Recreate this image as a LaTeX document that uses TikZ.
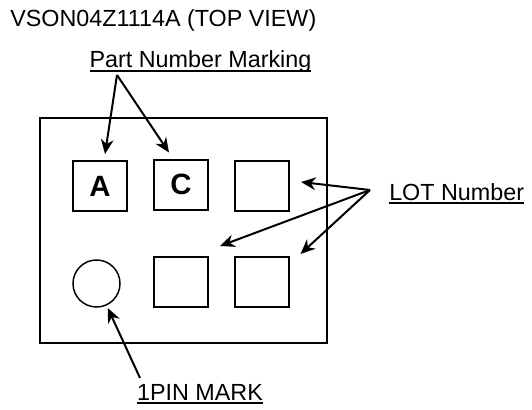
\documentclass[tikz,border=0pt]{standalone}
\usepackage{fontspec}
\setmainfont{Liberation Sans}
\usetikzlibrary{arrows.meta}
\newsavebox\ulbox
\newcommand{\ulabel}[1]{\sbox\ulbox{#1}\rlap{\rule[-3pt]{\wd\ulbox}{1.2pt}}\usebox\ulbox}

\begin{document}
\begin{tikzpicture}[x=0.75pt, y=-0.75pt,
  markbox/.style={draw, line width=1.5pt, minimum width=40.5pt, minimum height=37.5pt,
    inner sep=0pt, font=\fontsize{22}{22}\selectfont\bfseries},
  lbl/.style={inner sep=0pt, font=\fontsize{17.5}{21}\selectfont},
  arr/.style={-{Stealth[length=11pt, width=9.5pt, inset=3.5pt]}, line width=1.5pt}]
  \useasboundingbox (0,0) rectangle (532,410);

  % Nodes
  \node[lbl, anchor=base west] (title) at (10,27) {VSON04Z1114A (TOP VIEW)};
  \node[draw, line width=1.5pt, minimum width=215.25pt, minimum height=168.75pt] (pkg) at (183.5,230.5) {};
  \node[markbox] (markA) at (100,186) {A};
  \node[markbox] (markC) at (181,184.5) {C};
  \node[markbox] (lot1) at (262,186) {};
  \node[markbox] (lot2) at (181,282) {};
  \node[markbox] (lot3) at (261.5,282) {};
  \node[draw, circle, line width=1.1pt, minimum size=35.25pt, inner sep=0pt] (pin) at (96.5,283.5) {};

  % Labels
  \node[lbl, anchor=base] (partlbl) at (200.5,68) {\ulabel{Part Number Marking}};
  \node[lbl, anchor=base west] (lotlbl) at (389,200) {\ulabel{LOT Number}};
  \node[lbl, anchor=base] (pinlbl) at (200,400) {\ulabel{1PIN MARK}};
  \coordinate (partpt) at (117,75);
  \coordinate (lotpt) at (370,190);
  \coordinate (pinpt) at (140,378);

  % Arrows from part number label
  \foreach \m/\dx in {markA/5, markC/-12}
  {
    \draw[arr] (partpt) -- ([shift={(\dx,-6)}]\m.north);
  }

  % Arrows from LOT number label
  \foreach \t/\dx/\dy in {lot1.east/11/-4, lot2.north east/11/-10, lot3.north east/11/-2}
  {
    \draw[arr] (lotpt) -- ([shift={(\dx,\dy)}]\t);
  }

  % Arrow to pin mark
  \draw[arr, shorten >=2pt] (pinpt) -- (pin);
\end{tikzpicture}
\end{document}
